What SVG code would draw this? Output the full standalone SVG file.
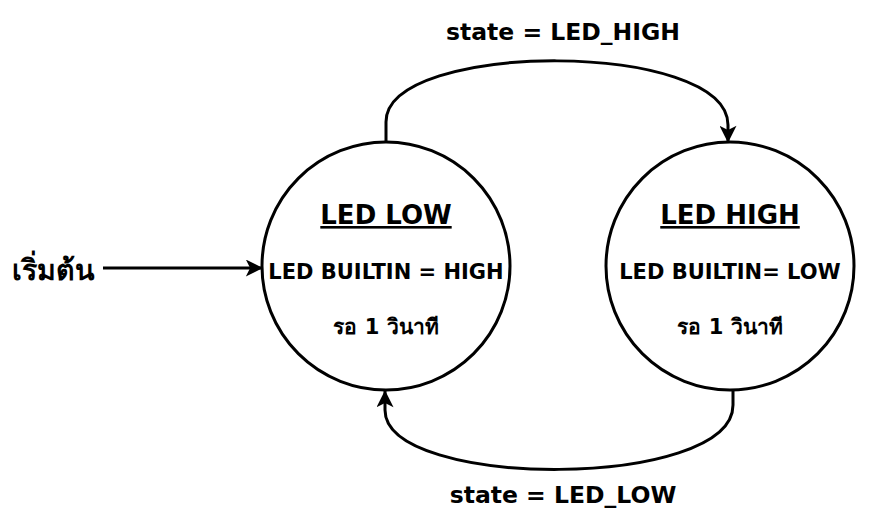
<svg xmlns="http://www.w3.org/2000/svg" width="890" height="530" viewBox="0 0 890 530">
<defs>
<marker id="arr" viewBox="0 0 10 10" refX="9.5" refY="5" markerWidth="18" markerHeight="17" orient="auto" markerUnits="userSpaceOnUse">
<path d="M0,0 L10,5 L0,10 L2.5,5 Z" fill="#000"/>
</marker>
<style>
.c{fill:#fff;stroke:#000;stroke-width:3}
.e{fill:none;stroke:#000;stroke-width:3}
text{font-family:"DejaVu Sans","Noto Sans",sans-serif;font-weight:bold;fill:#000;text-anchor:middle}
.t{font-size:26px;text-decoration:underline}
.b{font-size:21px}
.w{font-size:21px}
.l{font-size:23.5px}
</style>
</defs>
<rect width="890" height="530" fill="#fff"/>
<g id="connectors">
<path class="e" d="M103,268 L262,268" marker-end="url(#arr)"/>
<path class="e" d="M386,142 L386,122 C386,40 728,40 728,125 L728,142" marker-end="url(#arr)"/>
<path class="e" d="M733,390 L733,405 C733,490 385,490 385,410 L385,391" marker-end="url(#arr)"/>
</g>
<g id="start"><text x="53" y="280" style="font-size:28.5px">เริ่มต้น</text></g>
<g id="ledlow">
<circle class="c" cx="386" cy="266" r="124"/>
<text class="t" x="386" y="224">LED LOW</text>
<text class="b" x="386" y="279">LED BUILTIN = HIGH</text>
<text class="w" x="386" y="334">รอ 1 วินาที</text>
</g>
<g id="ledhigh">
<circle class="c" cx="730" cy="266" r="124"/>
<text class="t" x="730" y="224">LED HIGH</text>
<text class="b" x="730" y="279">LED BUILTIN= LOW</text>
<text class="w" x="730" y="334">รอ 1 วินาที</text>
</g>
<g id="labels">
<text class="l" x="563" y="40">state = LED_HIGH</text>
<text class="l" x="563" y="503">state = LED_LOW</text>
</g>
</svg>
